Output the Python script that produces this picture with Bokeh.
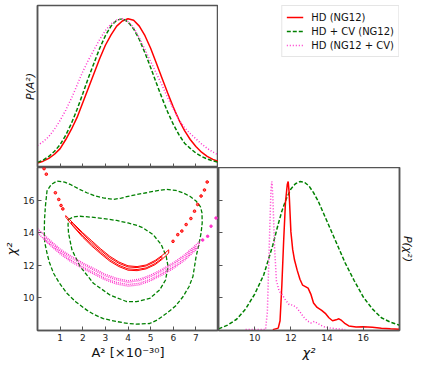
from bokeh.plotting import figure
from bokeh.layouts import column, row
from bokeh.models import Range1d, LinearAxis, FixedTicker, Legend, LegendItem
from bokeh.embed import file_html
from bokeh.resources import INLINE

FONT = "DejaVu Sans"
RED, GREEN, MAGENTA = "#ff0000", "#008000", "#ff33cc"
FRAME = "#555555"

series_labels = ["HD (NG12)", "HD + CV (NG12)", "HD (NG12 + CV)"]

# ---- marginal of A^2 (top-left) ----
a2_grid = [0.0, 0.25, 0.5, 0.75, 1.0, 1.25, 1.5, 1.75, 2.0, 2.25, 2.5, 2.75, 3.0, 3.25, 3.5, 3.75,
           4.0, 4.25, 4.5, 4.75, 5.0, 5.25, 5.5, 5.75, 6.0, 6.25, 6.5, 6.75, 7.0, 7.25, 7.5, 7.75, 8.0]
pa_hd = [0.020, 0.033, 0.052, 0.080, 0.118, 0.18, 0.25, 0.33, 0.43, 0.53, 0.63, 0.73, 0.82, 0.89, 0.95, 0.985,
         1.0, 0.99, 0.95, 0.885, 0.80, 0.70, 0.598, 0.497, 0.40, 0.314, 0.24, 0.18, 0.132, 0.094, 0.066, 0.045, 0.030]
pa_hdcv = [0.025, 0.04, 0.065, 0.10, 0.145, 0.21, 0.29, 0.385, 0.49, 0.60, 0.70, 0.80, 0.885, 0.95, 0.99, 1.0,
           0.979, 0.931, 0.859, 0.769, 0.669, 0.565, 0.463, 0.368, 0.284, 0.213, 0.155, 0.12, 0.088, 0.065, 0.048, 0.035, 0.025]
pa_ng12cv = [0.14, 0.165, 0.20, 0.25, 0.31, 0.38, 0.46, 0.55, 0.64, 0.72, 0.79, 0.86, 0.92, 0.965, 0.99, 1.0,
             0.98, 0.94, 0.87, 0.79, 0.71, 0.63, 0.55, 0.465, 0.39, 0.315, 0.26, 0.22, 0.185, 0.15, 0.12, 0.095, 0.075]

# ---- marginal of chi^2 (bottom-right) ----
chi_hdcv = [8.0, 8.5, 9.0, 9.5, 10.0, 10.5, 11.0, 11.25, 11.5, 11.75, 12.0, 12.25, 12.5, 12.75, 13.0, 13.25,
            13.5, 14.0, 14.5, 15.0, 15.5, 16.0, 16.5, 17.0, 17.5, 18.0]
pc_hdcv = [0.005, 0.03, 0.07, 0.14, 0.24, 0.37, 0.57, 0.69, 0.80, 0.885, 0.95, 0.985, 1.0, 0.995, 0.97, 0.925,
           0.87, 0.73, 0.59, 0.45, 0.33, 0.22, 0.14, 0.08, 0.05, 0.03]
chi_hd = [11.0, 11.3, 11.4, 11.5, 11.6, 11.7, 11.8, 11.85, 11.9, 12.0, 12.1, 12.2, 12.35, 12.5, 12.65, 12.8,
          12.95, 13.1, 13.25, 13.45, 13.7, 13.9, 14.1, 14.3, 14.5, 14.65, 14.8, 15.0, 15.2, 15.6, 16.0, 16.5,
          17.0, 17.5, 18.0]
pc_hd = [0.0, 0.01, 0.06, 0.3, 0.6, 0.86, 0.98, 1.0, 0.93, 0.66, 0.54, 0.47, 0.40, 0.34, 0.30, 0.29,
         0.28, 0.24, 0.18, 0.15, 0.13, 0.11, 0.08, 0.06, 0.066, 0.073, 0.062, 0.04, 0.025, 0.018, 0.02, 0.016,
         0.01, 0.006, 0.003]
chi_ng12cv = [9.5, 10.6, 10.7, 10.8, 10.9, 10.95, 11.0, 11.1, 11.2, 11.35, 11.5, 11.7, 11.9, 12.1, 12.3, 12.5,
              12.7, 12.9, 13.1, 13.3, 13.5, 13.8, 14.2, 14.6, 15.0]
pc_ng12cv = [0.0, 0.0, 0.12, 0.55, 0.95, 1.0, 0.9, 0.55, 0.33, 0.26, 0.24, 0.20, 0.17, 0.165, 0.15, 0.12,
             0.085, 0.06, 0.045, 0.055, 0.04, 0.02, 0.01, 0.005, 0.0]

# ---- 2D contours (bottom-left) ----
hdcv_outer_a2 = [0.35, 0.42, 0.6, 0.86, 1.2, 1.44, 1.8, 2.18, 2.55, 2.91, 3.35, 3.7, 4.0, 4.4, 4.81, 5.25, 5.69,
                 6.1, 6.43, 6.75, 7.01, 7.2, 7.27, 7.28, 7.23, 7.13, 7.01, 6.87, 6.7, 6.43, 6.1, 5.69, 5.3, 4.96,
                 4.37, 4.0, 3.5, 2.91, 2.5, 2.18, 1.7, 1.3, 0.95, 0.71, 0.52, 0.42, 0.32, 0.3, 0.31, 0.35]
hdcv_outer_chi = [15.63, 16.56, 16.95, 17.17, 17.1, 16.97, 16.7, 16.45, 16.25, 16.14, 16.04, 16.12, 16.23, 16.35,
                  16.45, 16.57, 16.66, 16.6, 16.45, 16.22, 15.94, 15.6, 15.22, 14.6, 13.98, 13.25, 12.54, 11.31,
                  10.7, 10.07, 9.5, 9.04, 8.65, 8.43, 8.39, 8.43, 8.55, 8.73, 8.98, 9.25, 9.75, 10.28, 10.95,
                  11.51, 12.2, 12.75, 13.4, 14.0, 14.8, 15.63]
hdcv_inner_a2 = [1.37, 1.6, 1.88, 2.4, 2.91, 3.5, 4.0, 4.4, 4.67, 5.11, 5.47, 5.69, 5.77, 5.66, 5.4, 4.96, 4.37,
                 3.93, 3.2, 2.47, 1.88, 1.52, 1.37, 1.35, 1.37]
hdcv_inner_chi = [14.81, 14.97, 15.01, 14.95, 14.87, 14.75, 14.6, 14.45, 14.29, 13.88, 13.27, 12.54, 11.93, 11.1,
                  10.49, 9.97, 9.77, 9.78, 10.18, 10.9, 11.93, 12.96, 13.98, 14.5, 14.81]

hd_band_a2 = [1.25, 1.6, 2.0, 2.4, 2.8, 3.2, 3.6, 4.0, 4.4, 4.8, 5.2, 5.5, 5.8]
hd_band_hi = [15.05, 14.55, 14.0, 13.5, 13.0, 12.55, 12.2, 11.97, 11.92, 12.02, 12.3, 12.6, 12.95]
hd_band_lo = [14.95, 14.35, 13.72, 13.18, 12.7, 12.25, 11.92, 11.7, 11.67, 11.78, 12.04, 12.36, 12.75]
hd_core_a2 = [1.5, 2.0, 2.4, 2.8, 3.2, 3.6, 4.0, 4.4, 4.8, 5.2, 5.5]
hd_core_hi = [14.66, 13.92, 13.4, 12.91, 12.46, 12.12, 11.9, 11.86, 11.96, 12.23, 12.54]
hd_core_lo = [14.54, 13.8, 13.28, 12.79, 12.34, 12.0, 11.78, 11.74, 11.84, 12.11, 12.42]
hd_isl_a2 = [0.29, 0.39, 0.79, 0.94, 1.04, 1.12, 5.99, 6.2, 6.38, 6.57, 6.78, 6.94, 7.08, 7.23, 7.38, 7.5]
hd_isl_chi = [17.93, 17.59, 16.45, 16.04, 15.67, 15.46, 13.47, 13.88, 14.1, 14.5, 14.87, 15.32, 15.73, 16.25,
              16.62, 17.11]

ng_band_a2 = [0.0, 0.5, 1.0, 1.5, 2.0, 2.5, 3.0, 3.5, 4.0, 4.5, 5.0, 5.5, 6.0, 6.5, 7.0, 7.15]
ng_band_hi = [14.25, 13.6, 13.0, 12.55, 12.15, 11.8, 11.45, 11.2, 11.05, 11.15, 11.4, 11.75, 12.15, 12.65, 13.25, 13.45]
ng_band_lo = [14.0, 13.3, 12.7, 12.2, 11.8, 11.45, 11.1, 10.85, 10.72, 10.8, 11.05, 11.4, 11.8, 12.3, 12.95, 13.25]
ng_core_a2 = [0.3, 1.0, 1.5, 2.0, 2.5, 3.0, 3.5, 4.0, 4.5, 5.0, 5.5, 6.0, 6.5, 7.0]
ng_core_hi = [13.75, 12.9, 12.45, 12.05, 11.7, 11.35, 11.1, 10.96, 11.06, 11.3, 11.65, 12.05, 12.55, 13.15]
ng_core_lo = [13.6, 12.8, 12.3, 11.9, 11.55, 11.2, 10.95, 10.82, 10.9, 11.15, 11.5, 11.9, 12.4, 13.05]
ng_isl_a2 = [7.3, 7.52, 7.67, 7.89]
ng_isl_chi = [13.55, 13.78, 14.4, 14.9]

a2_ticks = [1, 2, 3, 4, 5, 6, 7]
chi_ticks = [10, 12, 14, 16]

LEFT_B, RIGHT_B, TOP_B, BOT_B = 37, 21, 5, 32
FW, TOP_H, BOT_H = 181, 162, 163


def loop(xs, hi, lo):
    x = list(xs) + list(xs[::-1]) + [xs[0]]
    y = list(hi) + list(lo[::-1]) + [hi[0]]
    return x, y


def base(**kw):
    p = figure(output_backend="svg", toolbar_location=None, frame_width=FW, **kw)
    p.outline_line_color = FRAME
    p.outline_line_width = 1.5
    p.grid.visible = False
    p.background_fill_color = "white"
    p.border_fill_color = "white"
    return p


def style_axis(ax, ticks, show_labels=True, label=None, size="13px", style="italic"):
    ax.ticker = FixedTicker(ticks=ticks)
    ax.major_tick_in = 4
    ax.major_tick_out = 0
    ax.minor_tick_in = 0
    ax.minor_tick_out = 0
    ax.axis_line_color = FRAME
    ax.axis_line_width = 1.5
    ax.major_tick_line_color = FRAME
    ax.major_label_text_font = FONT
    ax.major_label_text_color = "#222222"
    if show_labels:
        ax.major_label_text_font_size = "9px"
        ax.major_label_standoff = 3
    else:
        ax.major_label_text_font_size = "0px"
        ax.major_label_standoff = 0
        ax.major_label_overrides = {t: "" for t in ticks}
    if label:
        ax.axis_label = label
        ax.axis_label_text_font = FONT
        ax.axis_label_text_font_size = size
        ax.axis_label_text_font_style = style
        ax.axis_label_text_color = "#111111"
        ax.axis_label_standoff = 1


# top-left
p_a = base(frame_height=TOP_H, x_range=Range1d(0, 8), y_range=Range1d(-0.01, 1.09),
           min_border_left=LEFT_B, min_border_right=0, min_border_top=TOP_B, min_border_bottom=0)
style_axis(p_a.xaxis[0], a2_ticks, False)
style_axis(p_a.yaxis[0], [], False, "P(A²)", size="11px")
p_a.line(a2_grid, pa_hd, line_color=RED, line_width=1.5)
p_a.line(a2_grid, pa_hdcv, line_color=GREEN, line_width=1.5, line_dash="4 2")
p_a.line(a2_grid, pa_ng12cv, line_color=MAGENTA, line_width=1.5, line_dash="1 2")

# legend panel (series drawn outside its visible range, only the legend shows)
p_l = figure(output_backend="svg", toolbar_location=None, frame_width=FW, frame_height=TOP_H,
             x_range=Range1d(-20, -10), y_range=Range1d(-20, -10), x_axis_location=None, y_axis_location=None,
             min_border_left=0, min_border_right=RIGHT_B, min_border_top=TOP_B, min_border_bottom=0)
p_l.outline_line_color = None
p_l.grid.visible = False
r1 = p_l.line(a2_grid, pa_hd, line_color=RED, line_width=1.5)
r2 = p_l.line(a2_grid, pa_hdcv, line_color=GREEN, line_width=1.5, line_dash="4 2")
r3 = p_l.line(a2_grid, pa_ng12cv, line_color=MAGENTA, line_width=1.5, line_dash="1 2")
legend = Legend(items=[LegendItem(label=series_labels[0], renderers=[r1]),
                       LegendItem(label=series_labels[1], renderers=[r2]),
                       LegendItem(label=series_labels[2], renderers=[r3])],
                location="top_right", margin=0, padding=4, spacing=0,
                glyph_width=17, glyph_height=14, label_height=14, label_standoff=8,
                label_text_font=FONT, label_text_font_size="10px", label_text_color="#111111",
                border_line_color="#cccccc", border_line_width=1)
p_l.add_layout(legend)

# bottom-left
p_c = base(frame_height=BOT_H, x_range=Range1d(0, 8), y_range=Range1d(8, 18),
           min_border_left=LEFT_B, min_border_right=0, min_border_top=0, min_border_bottom=BOT_B)
style_axis(p_c.xaxis[0], a2_ticks, True, "A² [×10⁻³⁰]", size="13px", style="normal")
style_axis(p_c.yaxis[0], chi_ticks, True, "χ²", size="13px")
p_c.line(hdcv_outer_a2, hdcv_outer_chi, line_color=GREEN, line_width=1.3, line_dash="4 2")
p_c.line(hdcv_inner_a2, hdcv_inner_chi, line_color=GREEN, line_width=1.3, line_dash="4 2")
x, y = loop(ng_band_a2, ng_band_hi, ng_band_lo)
p_c.line(x, y, line_color=MAGENTA, line_width=1.3, line_dash="1 1")
x, y = loop(ng_core_a2, ng_core_hi, ng_core_lo)
p_c.line(x, y, line_color=MAGENTA, line_width=1.3, line_dash="1 1")
p_c.scatter(ng_isl_a2, ng_isl_chi, marker="circle", size=2.5, line_color=MAGENTA, fill_color=MAGENTA)
x, y = loop(hd_band_a2, hd_band_hi, hd_band_lo)
p_c.line(x, y, line_color=RED, line_width=1.0)
x, y = loop(hd_core_a2, hd_core_hi, hd_core_lo)
p_c.line(x, y, line_color=RED, line_width=1.0)
p_c.scatter(hd_isl_a2, hd_isl_chi, marker="circle", size=2.6, line_color=RED, fill_color=RED, fill_alpha=0.6)

# bottom-right
p_d = base(frame_height=BOT_H, x_range=Range1d(8, 18), y_range=Range1d(-0.006, 1.095), y_axis_location=None,
           min_border_left=0, min_border_right=RIGHT_B, min_border_top=0, min_border_bottom=BOT_B)
p_d.extra_y_ranges = {"chi": Range1d(8, 18)}
style_axis(p_d.xaxis[0], chi_ticks, True, "χ²", size="13px")
ax_l = LinearAxis(y_range_name="chi")
style_axis(ax_l, chi_ticks, False)
p_d.add_layout(ax_l, "left")
ax_r = LinearAxis()
style_axis(ax_r, [], False, "P(χ²)", size="11px")
p_d.add_layout(ax_r, "right")
p_d.line(chi_hdcv, pc_hdcv, line_color=GREEN, line_width=1.5, line_dash="4 2")
p_d.line(chi_hd, pc_hd, line_color=RED, line_width=1.5)
p_d.line(chi_ng12cv, pc_ng12cv, line_color=MAGENTA, line_width=1.5, line_dash="1 2")

layout = column(row(p_a, p_l), row(p_c, p_d))
open("out.html", "w").write(file_html(layout, INLINE))
